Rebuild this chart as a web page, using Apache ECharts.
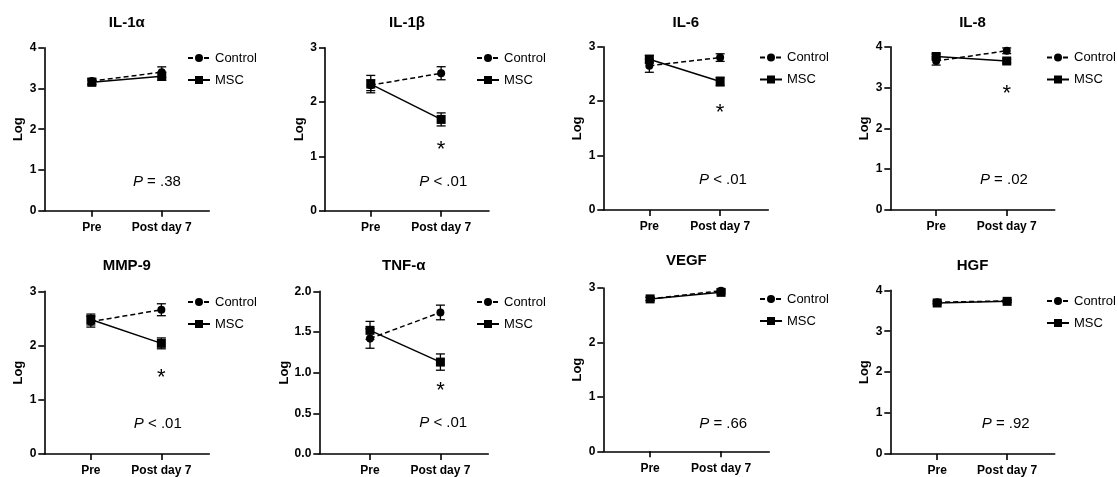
<!DOCTYPE html>
<html><head><meta charset="utf-8">
<script src="https://cdn.jsdelivr.net/npm/echarts@6/dist/echarts.min.js"></script>
<style>html,body{margin:0;padding:0;background:#fff}#c{width:1118px;height:477px}</style>
</head><body><div id="c"></div>
<script>
const panels = ['IL-1α','IL-1β','IL-6','IL-8','MMP-9','TNF-α','VEGF','HGF'];
const timepoints = ['Pre','Post day 7'];
const seriesNames = ['Control','MSC'];
const controlMean = [[3.18,3.40],[2.31,2.53],[2.65,2.80],[3.65,3.90],[2.44,2.66],[1.42,1.74],[2.80,2.95],[3.71,3.74]];
const controlErr  = [[0.07,0.13],[0.10,0.12],[0.12,0.07],[0.10,0.07],[0.10,0.11],[0.12,0.09],[0.03,0.03],[0.03,0.03]];
const mscMean     = [[3.15,3.30],[2.33,1.68],[2.77,2.36],[3.76,3.65],[2.48,2.04],[1.52,1.13],[2.80,2.92],[3.69,3.73]];
const mscErr      = [[0.06,0.10],[0.16,0.12],[0.07,0.08],[0.06,0.05],[0.10,0.10],[0.11,0.10],[0.03,0.03],[0.03,0.03]];
const yMax = [4,3,3,4,3,2,3,4];
const yInterval = [1,1,1,1,1,0.5,1,1];
const pLabels = ['= .38','< .01','< .01','= .02','< .01','< .01','= .66','= .92'];
const starY = [null,1.21,1.87,2.96,1.50,0.84,null,null];

// layout (pixels / annotation anchor positions)
const layout = [
 {left:44.3, top:47.7, width:165, height:163, xMin:0.32, lg:[187,51.5], titleY:22.5, pPos:[1.93,0.70]},
 {left:325, top:47.7, width:164, height:163, xMin:0.35, lg:[476,51.5], titleY:22.5, pPos:[2.03,0.53]},
 {left:603.3, top:46.7, width:165, height:163.3, xMin:0.35, lg:[759,51], titleY:22.5, pPos:[2.04,0.55]},
 {left:890.3, top:46.7, width:164.4, height:163.3, xMin:0.35, lg:[1046,51], titleY:22.5, pPos:[1.96,0.74]},
 {left:44.3, top:291.3, width:165, height:164, xMin:0.34, lg:[187,295.5], titleY:266.3, pPos:[1.95,0.56]},
 {left:319.3, top:291.3, width:169, height:164, xMin:0.28, lg:[476,295.5], titleY:266, pPos:[2.04,0.38]},
 {left:603.3, top:288, width:166, height:163.3, xMin:0.34, lg:[759,292.5], titleY:261.3, pPos:[2.03,0.50]},
 {left:890.3, top:290.3, width:164.4, height:164.4, xMin:0.33, lg:[1046,294.5], titleY:265.7, pPos:[1.98,0.73]}
];
const xMax = 2.68;
const FONT = 'Liberation Sans, Arial, Helvetica, sans-serif';

const grid = [], xAxis = [], yAxis = [], series = [], legend = [], graphic = [];

function errRender(params, api) {
  const x = api.value(0), lo = api.value(1), hi = api.value(2);
  const a = api.coord([x, lo]), b = api.coord([x, hi]);
  const w = 4.5;
  const st = {stroke:'#000', lineWidth:1.3};
  return {type:'group', children:[
    {type:'line', shape:{x1:a[0],y1:a[1],x2:b[0],y2:b[1]}, style:st},
    {type:'line', shape:{x1:a[0]-w,y1:a[1],x2:a[0]+w,y2:a[1]}, style:st},
    {type:'line', shape:{x1:b[0]-w,y1:b[1],x2:b[0]+w,y2:b[1]}, style:st}
  ]};
}

panels.forEach((name, i) => {
  const L = layout[i];
  grid.push({left:L.left, top:L.top, width:L.width, height:L.height, containLabel:false});
  xAxis.push({
    type:'value', gridIndex:i, min:L.xMin, max:xMax,
    axisLine:{show:true, onZero:false, lineStyle:{color:'#000', width:1.6}},
    axisTick:{show:true, length:6, customValues:[1,2], lineStyle:{color:'#000', width:1.6}},
    axisLabel:{show:true, customValues:[1,2], margin:11, color:'#000', fontWeight:'bold', fontSize:12, fontFamily:FONT,
      formatter: v => timepoints[Math.round(v)-1] || ''},
    splitLine:{show:false}
  });
  yAxis.push({
    type:'value', gridIndex:i, min:0, max:yMax[i], interval:yInterval[i],
    name:'Log', nameLocation:'middle', nameGap: i===5 ? 24 : 19,
    nameTextStyle:{color:'#000', fontWeight:'bold', fontSize:13, fontFamily:FONT},
    axisLine:{show:true, onZero:false, lineStyle:{color:'#000', width:1.6}},
    axisTick:{show:true, length:6, lineStyle:{color:'#000', width:1.6}},
    axisLabel:{show:true, margin:8, color:'#000', fontWeight:'bold', fontSize:12, fontFamily:FONT,
      formatter: v => yInterval[i] < 1 ? v.toFixed(1) : String(v)},
    splitLine:{show:false}
  });
  const cm = controlMean[i], ce = controlErr[i], mm = mscMean[i], me = mscErr[i];
  series.push({
    type:'custom', name:'ctrlErr', xAxisIndex:i, yAxisIndex:i, z:1, silent:true,
    renderItem: errRender, encode:{x:0, y:[1,2]},
    data:[[1, cm[0]-ce[0], cm[0]+ce[0]], [2, cm[1]-ce[1], cm[1]+ce[1]]]
  });
  series.push({
    type:'custom', name:'mscErr', xAxisIndex:i, yAxisIndex:i, z:1, silent:true,
    renderItem: errRender, encode:{x:0, y:[1,2]},
    data:[[1, mm[0]-me[0], mm[0]+me[0]], [2, mm[1]-me[1], mm[1]+me[1]]]
  });
  series.push({
    type:'line', name:seriesNames[0], xAxisIndex:i, yAxisIndex:i, z:3,
    symbol:'circle', symbolSize:8, showSymbol:true,
    lineStyle:{color:'#000', width:1.5, type:[5,3]}, itemStyle:{color:'#000'},
    data:[[1, cm[0]], [2, cm[1]]], animation:false
  });
  series.push({
    type:'line', name:seriesNames[1], xAxisIndex:i, yAxisIndex:i, z:4,
    symbol:'rect', symbolSize:9, showSymbol:true,
    lineStyle:{color:'#000', width:1.5, type:'solid'}, itemStyle:{color:'#000'},
    data:[[1, mm[0]], [2, mm[1]]], animation:false
  });
  const textLabel = {show:true, position:'inside', color:'#000', textBorderWidth:0, textBorderColor:'transparent', opacity:1};
  series.push({
    type:'scatter', xAxisIndex:i, yAxisIndex:i, silent:true, symbolSize:1, itemStyle:{opacity:0},
    label:Object.assign({}, textLabel, {fontSize:15, fontFamily:FONT,
      formatter: () => '{i|P} ' + pLabels[i],
      rich:{i:{fontStyle:'italic', fontSize:15, fontFamily:FONT, color:'#000', textBorderWidth:0}}}),
    data:[L.pPos]
  });
  if (starY[i] !== null) {
    series.push({
      type:'scatter', xAxisIndex:i, yAxisIndex:i, silent:true, symbolSize:1, itemStyle:{opacity:0},
      label:Object.assign({}, textLabel, {fontSize:22, fontFamily:FONT, offset:[0,5], formatter:'*'}),
      data:[[2, starY[i]]]
    });
  }
  legend.push({
    left:L.lg[0], top:L.lg[1], orient:'vertical', padding:0, itemWidth:22, itemHeight:10, itemGap:9,
    selectedMode:false, data:seriesNames,
    textStyle:{color:'#000', fontSize:13, fontFamily:FONT}
  });
  graphic.push({
    type:'text', x:L.left + L.width/2, y:L.titleY, silent:true,
    style:{text:name, fill:'#000', font:'bold 15px ' + FONT, textAlign:'center', textVerticalAlign:'middle'}
  });
});

const chart = echarts.init(document.getElementById('c'), null, {renderer:'canvas'});
chart.setOption({animation:false, backgroundColor:'#fff', grid, xAxis, yAxis, series, legend, graphic});
</script></body></html>
